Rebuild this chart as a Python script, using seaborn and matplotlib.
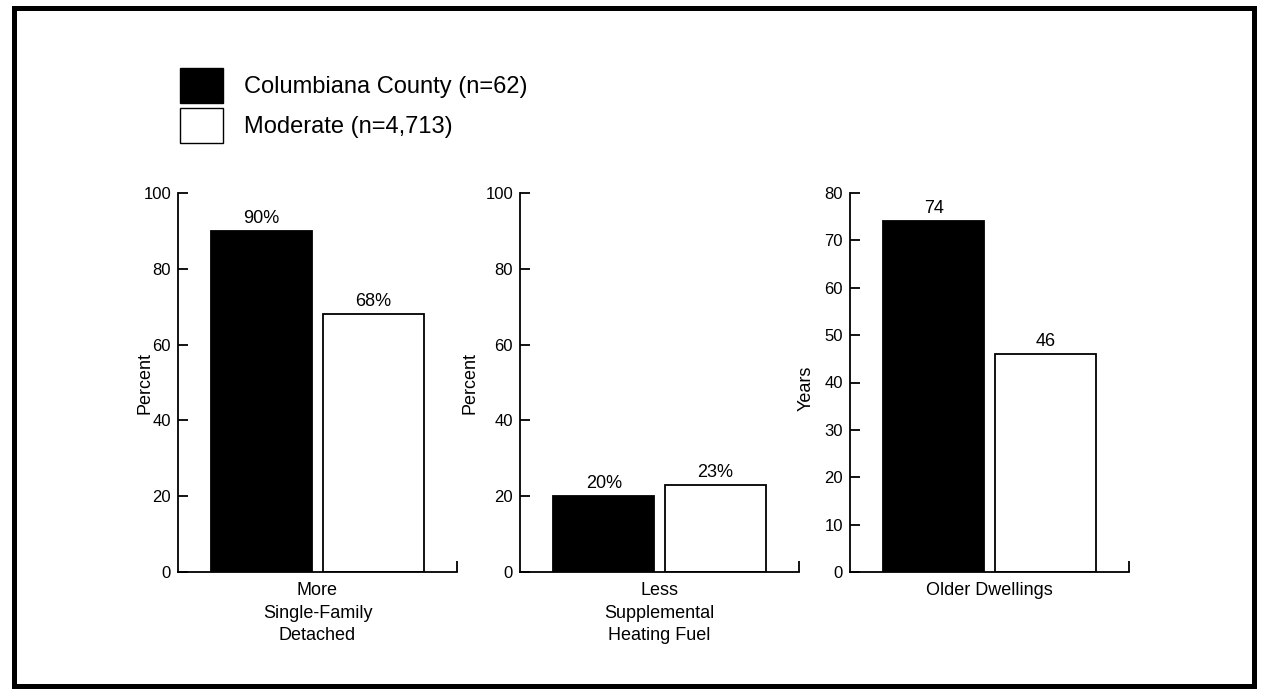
import matplotlib
matplotlib.use("Agg")
import matplotlib.pyplot as plt
from matplotlib.patches import Patch, Rectangle
import pandas as pd
import seaborn as sns

# Survey comparison data
groups = ["Columbiana County (n=62)", "Moderate (n=4,713)"]
categories = ["More\nSingle-Family\nDetached", "Less\nSupplemental\nHeating Fuel", "Older Dwellings"]
county_values = [90, 20, 74]
moderate_values = [68, 23, 46]
value_suffix = ["%", "%", ""]
y_titles = ["Percent", "Percent", "Years"]
y_limits = [100, 100, 80]
y_steps = [20, 20, 10]
group_colors = ["black", "white"]

sns.set_theme(style="ticks")
plt.rcParams["font.family"] = ["Liberation Sans", "DejaVu Sans"]
plt.rcParams["text.color"] = "black"

W, H = 1262, 689
fig = plt.figure(figsize=(W / 100, H / 100), dpi=100)
fig.patch.set_facecolor("white")

panel_left = [178, 520, 850]
ylabel_pos = [(-0.118, 0.5), (-0.179, 0.5), (-0.158, 0.485)]
ax_bottom = (H - 572) / H
ax_height = 379 / H
ax_width = 279 / W

for i, cat in enumerate(categories):
    ax = fig.add_axes([panel_left[i] / W, ax_bottom, ax_width, ax_height])
    df = pd.DataFrame({
        "category": [cat, cat],
        "group": groups,
        "value": [county_values[i], moderate_values[i]],
    })
    sns.barplot(data=df, x="category", y="value", hue="group", hue_order=groups,
                palette=group_colors, edgecolor="black", linewidth=1.3,
                width=0.8, gap=0.1, saturation=1, legend=False, ax=ax)
    for cont in ax.containers:
        ax.bar_label(cont, fmt="%g" + value_suffix[i].replace("%", "%%"),
                     padding=3, fontsize=13, color="black")
    ax.set_xlim(-0.5, 0.5)
    ax.set_ylim(0, y_limits[i])
    ax.set_yticks(range(0, y_limits[i] + 1, y_steps[i]))
    ax.set_ylabel(y_titles[i], fontsize=13, color="black")
    ax.yaxis.label.set_verticalalignment("center")
    ax.yaxis.set_label_coords(*ylabel_pos[i])
    ax.set_xlabel("")
    ax.tick_params(axis="y", direction="in", length=7, width=1.3, labelsize=12,
                   pad=5, colors="black")
    ax.tick_params(axis="x", which="major", length=0, labelsize=13, pad=7.5,
                   colors="black")
    for lab in ax.get_xticklabels():
        lab.set_linespacing(1.4)
    ax.set_xticks([0.5], minor=True)
    ax.tick_params(axis="x", which="minor", direction="in", length=8, width=1.3,
                   colors="black")
    ax.set_facecolor("white")
    for side in ["top", "right"]:
        ax.spines[side].set_visible(False)
    for side in ["left", "bottom"]:
        ax.spines[side].set_linewidth(1.3)
        ax.spines[side].set_color("black")

handles = [Patch(facecolor=c, edgecolor="black", linewidth=1.0) for c in group_colors]
fig.legend(handles, groups, loc="upper left", bbox_to_anchor=(180 / W, 1 - 68 / H),
           frameon=False, fontsize=17, labelcolor="black", handlelength=1.82,
           handleheight=1.9, handletextpad=0.9, labelspacing=0.21, borderpad=0,
           borderaxespad=0)

fig.patches.append(Rectangle((13.5 / W, 3.5 / H), (1254 - 13.5) / W, 678 / H,
                             transform=fig.transFigure, fill=False,
                             edgecolor="black", linewidth=3.6))

fig.savefig("out.png", dpi=100, facecolor="white")
